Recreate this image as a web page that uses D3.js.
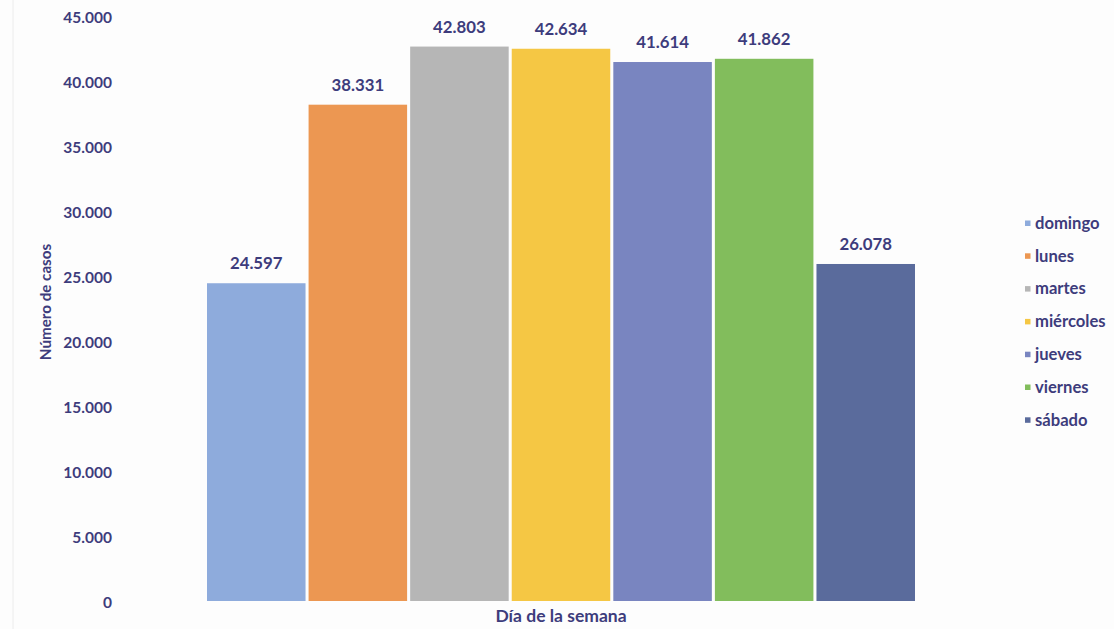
<!DOCTYPE html>
<html>
<head>
<meta charset="utf-8">
<script src="https://cdn.jsdelivr.net/npm/d3@7"></script>
<style>
  html, body { margin: 0; padding: 0; background: #fdfdfd; }
  svg { display: block; }
  text { font-family: Lato, "Open Sans", sans-serif; }
</style>
</head>
<body>
<svg id="chart" width="1114" height="629"></svg>
<script>
// Casos por día de la semana
const dias = ["domingo", "lunes", "martes", "miércoles", "jueves", "viernes", "sábado"];
const casos = [24597, 38331, 42803, 42634, 41614, 41862, 26078];
const colores = ["#8eabdc", "#ec9752", "#b6b6b6", "#f5c744", "#7985c0", "#82bd5c", "#5a6b9c"];
const yTicks = [0, 5000, 10000, 15000, 20000, 25000, 30000, 35000, 40000, 45000];

const textColor = "#3d3c7c";
const es = d3.formatLocale({ decimal: ",", thousands: ".", grouping: [3], currency: ["", " €"] });
const fmt = es.format(",d");

const svg = d3.select("#chart");
const margin = { left: 207, right: 200, top: 18, bottom: 26 };
const W = 1114, H = 629;

const x = d3.scaleBand()
  .domain(dias)
  .range([margin.left, W - margin.right + 1])
  .paddingInner(0.03)
  .paddingOuter(0);

const y = d3.scaleLinear()
  .domain([0, 45000])
  .range([H - margin.bottom, margin.top]);

// faint frame edge on the left
svg.append("line")
  .attr("x1", 13).attr("x2", 13).attr("y1", 0).attr("y2", H)
  .attr("stroke", "#ececec").attr("stroke-width", 1);

// y axis (labels only)
const yAxis = d3.axisLeft(y).tickValues(yTicks).tickFormat(d => fmt(d)).tickSize(0).tickPadding(0);
const gy = svg.append("g").attr("transform", "translate(112,0)").call(yAxis);
gy.select(".domain").remove();
gy.selectAll("text")
  .attr("fill", textColor)
  .style("font-size", "15.5px")
  .style("font-weight", "700")
  .style("font-family", "Lato, 'Open Sans', sans-serif");

// bars
svg.append("g").selectAll("rect")
  .data(dias)
  .join("rect")
  .attr("x", d => x(d))
  .attr("width", x.bandwidth())
  .attr("y", (d, i) => y(casos[i]))
  .attr("height", (d, i) => y(0) - y(casos[i]) - 2)
  .attr("fill", (d, i) => colores[i]);

// value labels
svg.append("g").selectAll("text")
  .data(dias)
  .join("text")
  .attr("x", d => x(d) + x.bandwidth() / 2)
  .attr("y", (d, i) => y(casos[i]) - 14)
  .attr("text-anchor", "middle")
  .attr("fill", textColor)
  .style("font-size", "16.8px")
  .style("font-weight", "700")
  .text((d, i) => fmt(casos[i]));

// axis titles
svg.append("text")
  .attr("x", x(dias[0]) + (x(dias[6]) + x.bandwidth() - x(dias[0])) / 2)
  .attr("y", 622)
  .attr("text-anchor", "middle")
  .attr("fill", textColor)
  .style("font-size", "17.5px")
  .style("font-weight", "700")
  .text("Día de la semana");

svg.append("text")
  .attr("transform", "translate(51,302) rotate(-90)")
  .attr("text-anchor", "middle")
  .attr("fill", textColor)
  .style("font-size", "15.2px")
  .style("font-weight", "700")
  .text("Número de casos");

// legend
const legend = svg.append("g").attr("transform", "translate(1025,223)");
const item = legend.selectAll("g")
  .data(dias)
  .join("g")
  .attr("transform", (d, i) => `translate(0,${i * 32.8})`);
item.append("rect")
  .attr("x", 0).attr("y", -2.5)
  .attr("width", 5.5).attr("height", 5.5)
  .attr("fill", (d, i) => colores[i]);
item.append("text")
  .attr("x", 10).attr("y", 0)
  .attr("dy", "0.35em")
  .attr("fill", textColor)
  .style("font-size", "16.6px")
  .style("font-weight", "700")
  .text(d => d);
</script>
</body>
</html>
